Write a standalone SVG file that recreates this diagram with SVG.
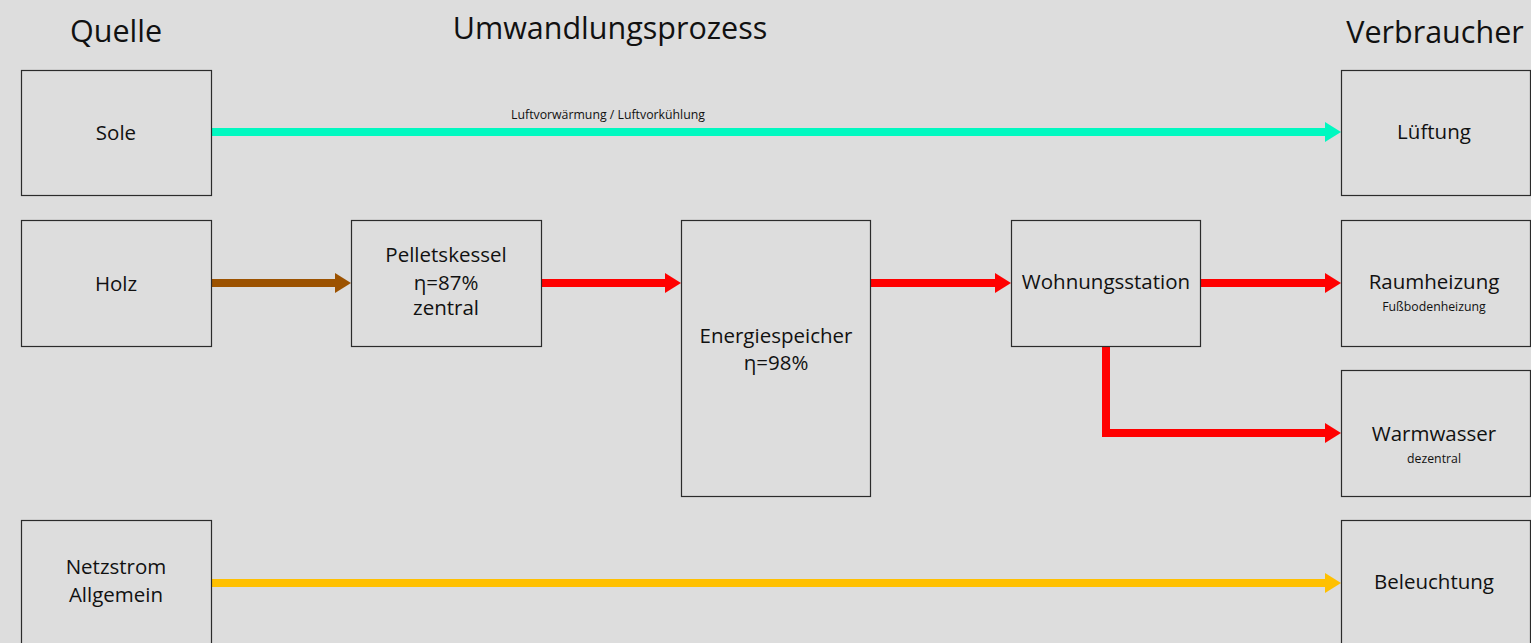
<svg xmlns="http://www.w3.org/2000/svg" width="1531" height="643" viewBox="0 0 1531 643">
  <style>
    .box { fill: #DDDDDD; stroke: #2b2b2b; stroke-width: 1.2; }
    .t { font-family: "Open Sans", "Liberation Sans", sans-serif; fill: #111; text-anchor: middle; }
    .title { font-size: 30.5px; }
    .lbl { font-size: 20.5px; }
    .sub { font-size: 12.3px; }
    .flow { fill: none; stroke-width: 8; stroke-linejoin: miter; }
  </style>
  <defs>
    <marker id="hTeal" markerUnits="userSpaceOnUse" markerWidth="16" markerHeight="20" refX="0" refY="10" orient="auto"><path d="M0,0 L16,10 L0,20 Z" fill="#00F8C0"/></marker>
    <marker id="hBrown" markerUnits="userSpaceOnUse" markerWidth="16" markerHeight="20" refX="0" refY="10" orient="auto"><path d="M0,0 L16,10 L0,20 Z" fill="#9C5200"/></marker>
    <marker id="hRed" markerUnits="userSpaceOnUse" markerWidth="16" markerHeight="20" refX="0" refY="10" orient="auto"><path d="M0,0 L16,10 L0,20 Z" fill="#FF0000"/></marker>
    <marker id="hYellow" markerUnits="userSpaceOnUse" markerWidth="16" markerHeight="20" refX="0" refY="10" orient="auto"><path d="M0,0 L16,10 L0,20 Z" fill="#FFC000"/></marker>
  </defs>
  <rect width="1531" height="643" fill="#DDDDDD"/>

  <!-- column headings -->
  <text class="t title" x="116" y="42">Quelle</text>
  <text class="t title" x="610" y="39">Umwandlungsprozess</text>
  <text class="t title" x="1435" y="43">Verbraucher</text>

  <g id="connectors">
    <path class="flow" d="M211,132 H1325" stroke="#00F8C0" marker-end="url(#hTeal)"/>
    <text class="t sub" x="608" y="119">Luftvorwärmung / Luftvorkühlung</text>
    <path class="flow" d="M211,283 H335" stroke="#9C5200" marker-end="url(#hBrown)"/>
    <path class="flow" d="M541,283 H665" stroke="#FF0000" marker-end="url(#hRed)"/>
    <path class="flow" d="M870,283 H995" stroke="#FF0000" marker-end="url(#hRed)"/>
    <path class="flow" d="M1200,283 H1325" stroke="#FF0000" marker-end="url(#hRed)"/>
    <path class="flow" d="M1106,346 V433 H1325" stroke="#FF0000" marker-end="url(#hRed)"/>
    <path class="flow" d="M211,583 H1325" stroke="#FFC000" marker-end="url(#hYellow)"/>
  </g>

  <g id="sole">
    <rect class="box" x="21.5" y="70.5" width="190" height="125"/>
    <text class="t lbl" x="116" y="140">Sole</text>
  </g>
  <g id="holz">
    <rect class="box" x="21.5" y="220.5" width="190" height="126"/>
    <text class="t lbl" x="116" y="291">Holz</text>
  </g>
  <g id="netzstrom">
    <rect class="box" x="21.5" y="520.5" width="190" height="130"/>
    <text class="t lbl" x="116" y="574">Netzstrom</text>
    <text class="t lbl" x="116" y="602">Allgemein</text>
  </g>
  <g id="pelletskessel">
    <rect class="box" x="351.5" y="220.5" width="190" height="126"/>
    <text class="t lbl" x="446" y="262">Pelletskessel</text>
    <text class="t lbl" x="446" y="290">η=87%</text>
    <text class="t lbl" x="446" y="315">zentral</text>
  </g>
  <g id="energiespeicher">
    <rect class="box" x="681.5" y="220.5" width="189" height="276"/>
    <text class="t lbl" x="776" y="343">Energiespeicher</text>
    <text class="t lbl" x="776" y="370">η=98%</text>
  </g>
  <g id="wohnungsstation">
    <rect class="box" x="1011.5" y="220.5" width="189" height="126"/>
    <text class="t lbl" x="1106" y="289">Wohnungsstation</text>
  </g>
  <g id="lueftung">
    <rect class="box" x="1341.5" y="70.5" width="189" height="125"/>
    <text class="t lbl" x="1434" y="139">Lüftung</text>
  </g>
  <g id="raumheizung">
    <rect class="box" x="1341.5" y="220.5" width="189" height="126"/>
    <text class="t lbl" x="1434" y="289">Raumheizung</text>
    <text class="t sub" x="1434" y="311">Fußbodenheizung</text>
  </g>
  <g id="warmwasser">
    <rect class="box" x="1341.5" y="370.5" width="189" height="126"/>
    <text class="t lbl" x="1434" y="441">Warmwasser</text>
    <text class="t sub" x="1434" y="463">dezentral</text>
  </g>
  <g id="beleuchtung">
    <rect class="box" x="1341.5" y="520.5" width="189" height="130"/>
    <text class="t lbl" x="1434" y="589">Beleuchtung</text>
  </g>
</svg>
